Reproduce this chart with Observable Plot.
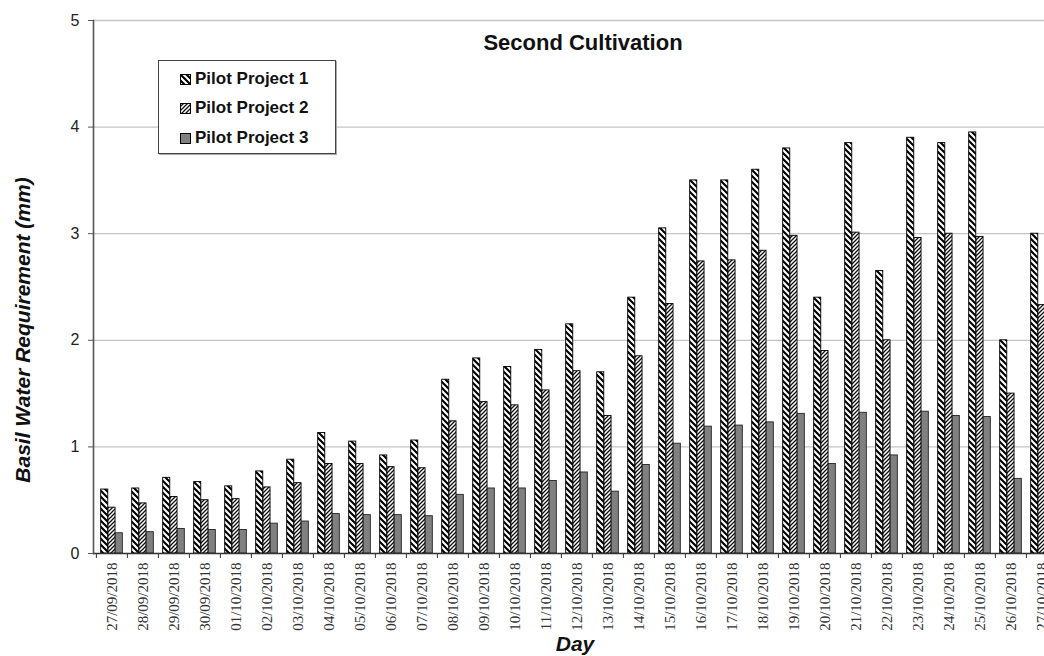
<!DOCTYPE html>
<html><head><meta charset="utf-8">
<script src="https://cdn.jsdelivr.net/npm/d3@7"></script>
<script src="https://cdn.jsdelivr.net/npm/@observablehq/plot@0.6"></script>
<style>
body{margin:0;background:#fff;overflow:hidden;}
#wrap{position:relative;width:1044px;height:656px;overflow:hidden;font-family:Arial,"Liberation Sans",sans-serif;background:#fff;}
#chart{position:absolute;left:0;top:0;width:1061px;}
#chart svg{max-width:none !important;}
.title{position:absolute;left:583px;top:32px;transform:translateX(-50%);font-weight:bold;font-size:22px;line-height:1;white-space:nowrap;color:#111;}
.ylab{position:absolute;left:22px;top:330px;transform:translate(-50%,-50%) rotate(-90deg);font-weight:bold;font-style:italic;font-size:21px;line-height:1;white-space:nowrap;color:#111;}
.xlab{position:absolute;left:575px;top:633px;transform:translateX(-50%);font-weight:bold;font-style:italic;font-size:21px;line-height:1;white-space:nowrap;color:#111;}
.legend{position:absolute;left:158px;top:60px;width:176px;height:92px;border:1px solid #444;background:#fff;box-shadow:1px 1px 0 #aaa;}
.legend .row{position:absolute;left:21px;height:20px;display:flex;align-items:center;font-weight:bold;font-size:17px;white-space:nowrap;color:#111;}
.legend svg{margin-right:4px;}
</style></head><body>
<svg width="0" height="0" style="position:absolute"><defs>
<pattern id="pp1" patternUnits="userSpaceOnUse" width="6" height="6">
<rect width="6" height="6" fill="#fff"/>
<path d="M-1.5,-1.5L7.5,7.5M-1.5,4.5L1.5,7.5M4.5,-1.5L7.5,1.5" stroke="#000" stroke-width="2.1"/>
</pattern>
<pattern id="pp2" patternUnits="userSpaceOnUse" width="4" height="4">
<rect width="4" height="4" fill="#fff"/>
<path d="M-1,1L1,-1M0,4L4,0M3,5L5,3" stroke="#111" stroke-width="1.3"/>
</pattern>
</defs></svg>
<div id="wrap">
<div id="chart"></div>
<div class="title">Second Cultivation</div>
<div class="ylab">Basil Water Requirement (mm)</div>
<div class="xlab">Day</div>
<div class="legend" id="legend"></div>
</div>
<script>
const dates = ["27/09/2018","28/09/2018","29/09/2018","30/09/2018","01/10/2018","02/10/2018","03/10/2018","04/10/2018","05/10/2018","06/10/2018","07/10/2018","08/10/2018","09/10/2018","10/10/2018","11/10/2018","12/10/2018","13/10/2018","14/10/2018","15/10/2018","16/10/2018","17/10/2018","18/10/2018","19/10/2018","20/10/2018","21/10/2018","22/10/2018","23/10/2018","24/10/2018","25/10/2018","26/10/2018","27/10/2018"];
const pilot1 = [0.60,0.61,0.71,0.67,0.63,0.77,0.88,1.13,1.05,0.92,1.06,1.63,1.83,1.75,1.91,2.15,1.70,2.40,3.05,3.50,3.50,3.60,3.80,2.40,3.85,2.65,3.90,3.85,3.95,2.00,3.00];
const pilot2 = [0.43,0.47,0.53,0.50,0.51,0.62,0.66,0.84,0.84,0.81,0.80,1.24,1.42,1.39,1.53,1.71,1.29,1.85,2.34,2.74,2.75,2.84,2.98,1.90,3.01,2.00,2.96,3.00,2.97,1.50,2.33];
const pilot3 = [0.19,0.20,0.23,0.22,0.22,0.28,0.30,0.37,0.36,0.36,0.35,0.55,0.61,0.61,0.68,0.76,0.58,0.83,1.03,1.19,1.20,1.23,1.31,0.84,1.32,0.92,1.33,1.29,1.28,0.70,1.25];
const seriesNames = ["Pilot Project 1","Pilot Project 2","Pilot Project 3"];
const seriesFills = ["url(#pp1)","url(#pp2)","#808080"];
const yTicks = [0,1,2,3,4,5];

const rows = dates.map((d,i)=>({date:d, p1:pilot1[i], p2:pilot2[i], p3:pilot3[i]}));

const W = 1061, ML = 93, MR = 1;
const step = (W - ML - MR) / dates.length;
const outer = 0.15 * step, bw = 0.7 * step / 3;
const inset = k => ({insetLeft: outer + k*bw, insetRight: step - outer - (k+1)*bw});

const chart = Plot.plot({
  width: W, height: 656,
  marginLeft: ML, marginRight: MR, marginTop: 20, marginBottom: 103,
  style: {fontFamily: "Arial, 'Liberation Sans', sans-serif", background: "transparent", overflow: "visible", maxWidth: "none"},
  x: {type: "band", domain: dates, padding: 0, label: null},
  y: {domain: [0,5], label: null},
  marks: [
    Plot.gridY(yTicks.slice(1), {stroke: "#c4c4c4", strokeOpacity: 1, strokeWidth: 1.3}),
    Plot.barY(rows, {x: "date", y: "p1", fill: seriesFills[0], stroke: "#000", strokeWidth: 0.9, ...inset(0)}),
    Plot.barY(rows, {x: "date", y: "p2", fill: seriesFills[1], stroke: "#000", strokeWidth: 0.9, ...inset(1)}),
    Plot.barY(rows, {x: "date", y: "p3", fill: seriesFills[2], stroke: "#222", strokeWidth: 0.9, ...inset(2)}),
    Plot.ruleY([0], {stroke: "#333", strokeWidth: 1.5}),
    Plot.frame({anchor: "left", stroke: "#555", strokeWidth: 1.6}),
    Plot.axisY({ticks: yTicks, tickSize: 5, tickPadding: 9, fontSize: 16, stroke: "#555", color: "#222", tickFormat: d => d}),
    Plot.axisX({tickSize: 5, dx: -step/2, stroke: "#333", tickFormat: () => ""}),
    Plot.axisX({tickSize: 0, tickRotate: -90, tickPadding: 9, fontSize: 15, fontFamily: "'Liberation Serif', 'Times New Roman', serif", color: "#333", tickFormat: d => d})
  ]
});
document.getElementById("chart").appendChild(chart);

const legend = document.getElementById("legend");
const rowTops = [8, 37, 67];
seriesNames.forEach((name,k)=>{
  const r = document.createElement("div");
  r.className = "row";
  r.style.top = rowTops[k] + "px";
  r.innerHTML = `<svg width="11" height="11"><rect x="0.5" y="0.5" width="10" height="10" fill="${seriesFills[k]}" stroke="#000" stroke-width="1"/></svg><span>${name}</span>`;
  legend.appendChild(r);
});
</script>
</body></html>
